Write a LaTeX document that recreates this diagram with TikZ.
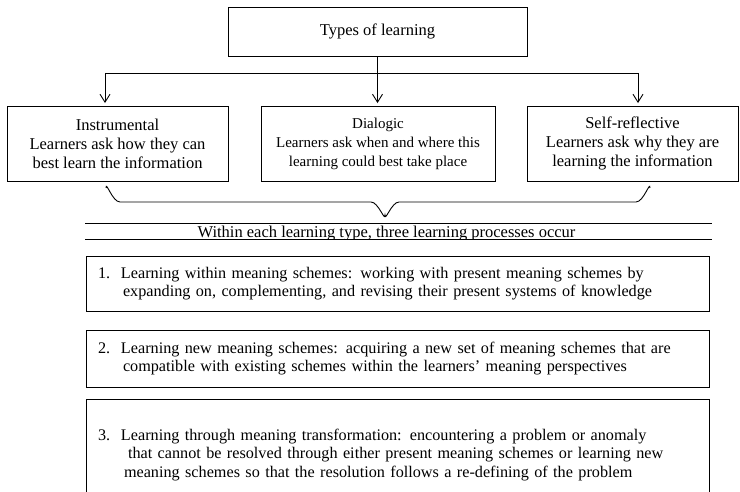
\documentclass[tikz,border=0pt]{standalone}
\usepackage{fontspec}
\setmainfont{Liberation Serif}
\usetikzlibrary{arrows.meta}
\begin{document}
\begin{tikzpicture}[x=1pt,y=-1pt,
  txt/.style={font=\fontsize{16.5}{19}\selectfont},
  box/.style={draw, line width=0.9pt, rectangle, inner sep=0pt, align=center, txt},
  procbox/.style={box, minimum width=623pt, inner xsep=12pt, text width=599pt, align=left,
    font=\fontsize{16.2}{18.5}\selectfont},
  arr/.style={-{Straight Barb[length=8pt,width=10pt]}, line width=0.9pt, shorten >=2.5pt},
  lnk/.style={line width=0.9pt}]
\clip (0,0) rectangle (740,492);

% learning types
\node[box, minimum width=299pt, minimum height=49pt] (types) at (377.5,31.5) {Types of learning};
\node[box, minimum width=221pt, minimum height=75pt] (inst) at (117.5,143.5)
  {Instrumental\\Learners ask how they can\\best learn the information};
\node[box, minimum width=234pt, minimum height=75pt, font=\fontsize{15}{19}\selectfont] (dial) at (378,143.5)
  {Dialogic\\Learners ask when and where this\\learning could best take place};
\node[box, minimum width=211pt, minimum height=75pt] (self) at (632.5,143.5)
  {Self-reflective\\Learners ask why they are\\learning the information};

% branching connectors
\coordinate (jl) at (105,73);
\coordinate (jr) at (638,73);
\draw[lnk] (jl) -- (jr);
\draw[arr] (jl) -- (jl |- inst.north);
\draw[arr] (types.south) -- (types.south |- dial.north);
\draw[arr] (jr) -- (jr |- self.north);

% brace gathering the three types (y axis points down the page)
\draw[lnk] (106,188) to[out=90,in=180] (120,202) -- (371,202)
  to[out=0,in=-90] (385,215) to[out=-90,in=180] (399,202) -- (636,202)
  to[out=0,in=90] (650,188);

% caption between two rules
\coordinate (ra) at (85,223);
\coordinate (rb) at (712,223);
\coordinate (rc) at (85,239);
\coordinate (rd) at (712,239);
\begin{scope}
  \clip (85,220) rectangle (712,239);
  \node[txt, anchor=base, inner sep=0pt] (within) at (386.5,237.5)
    {Within each learning type, three learning processes occur};
\end{scope}
\draw[lnk] (ra) -- (rb);
\draw[lnk] (rc) -- (rd);

% the three learning processes
\node[procbox, minimum height=55pt] (p1) at (397.5,283.5)
  {\makebox[23pt][l]{1.}Learning within meaning schemes: working with present meaning schemes by\\
   \hspace*{25pt}expanding on, complementing, and revising their present systems of knowledge};
\node[procbox, minimum height=57pt] (p2) at (397.5,358.5)
  {\makebox[23pt][l]{2.}Learning new meaning schemes: acquiring a new set of meaning schemes that are\\
   \hspace*{25pt}compatible with existing schemes within the learners’ meaning perspectives};
\node[procbox, minimum height=112pt] (p3) at (397.5,455)
  {\makebox[23pt][l]{3.}Learning through meaning transformation: encountering a problem or anomaly\\
   \hspace*{30pt}that cannot be resolved through either present meaning schemes or learning new\\
   \hspace*{26pt}meaning schemes so that the resolution follows a re-defining of the problem};
\end{tikzpicture}
\end{document}
